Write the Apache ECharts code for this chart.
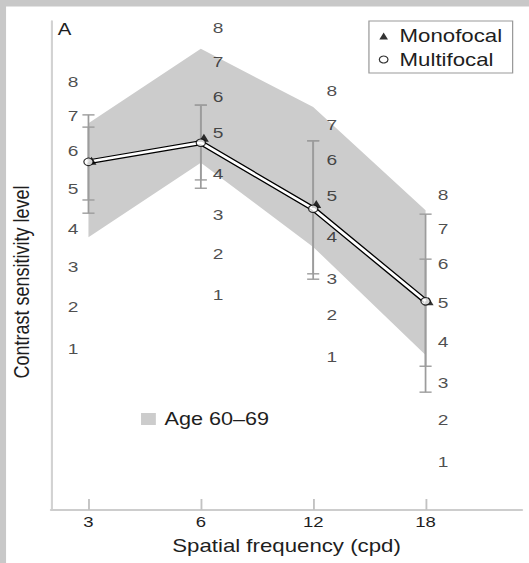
<!DOCTYPE html>
<html>
<head>
<meta charset="utf-8">
<script src="https://cdn.jsdelivr.net/npm/echarts@6.0.0/dist/echarts.min.js"></script>
<style>
  html, body { margin: 0; padding: 0; background: #fff; }
  #wrap { width: 529px; height: 563px; overflow: hidden; position: relative; }
  #chart { width: 428px; height: 563px; transform: scaleX(1.236); transform-origin: 0 0; }
</style>
</head>
<body>
<div id="wrap"><div id="chart"></div></div>
<script>
// ---- data ----
const categories = ['3', '6', '12', '18'];               // spatial frequency (cpd)
const bandUpper = [7.91, 9.43, 8.24, 6.13];             // Age 60-69 norm band, upper edge
const bandLower = [5.58, 7.10, 5.38, 3.17];             // Age 60-69 norm band, lower edge
const monofocal = [7.14, 7.61, 6.26, 4.27];
const multifocal = [7.12, 7.51, 6.16, 4.27];
const monoErrLow = [6.07, 6.58, 4.72, 2.41];
const monoErrHigh = [8.08, 8.28, 7.55, 6.05];
const multiErrLow = [6.34, 6.75, 4.83, 2.94];
const multiErrHigh = [7.83, 8.28, 7.55, 5.13];
// per-frequency contrast sensitivity level scales (tick labels and their heights)
const scaleLabels = ['1', '2', '3', '4', '5', '6', '7', '8'];
const scalePos3 = [3.29, 4.15, 4.97, 5.75, 6.58, 7.34, 8.06, 8.75];
const scalePos6 = [4.40, 5.24, 6.03, 6.87, 7.71, 8.45, 9.16, 9.86];
const scalePos12 = [3.13, 3.99, 4.74, 5.58, 6.42, 7.16, 7.87, 8.57];
const scalePos18 = [0.98, 1.84, 2.60, 3.44, 4.25, 5.03, 5.75, 6.44];

const FONT = "'Liberation Sans', Arial, Helvetica, sans-serif";
const TXT = '#1e1e1e';

const chart = echarts.init(document.getElementById('chart'), null, { renderer: 'svg' });

function xy(arr) { return arr.map((v, i) => [i, v]); }

function scaleSeries(col, positions, dx) {
  return {
    type: 'scatter',
    silent: true,
    z: 3,
    symbolSize: 1,
    itemStyle: { color: 'rgba(0,0,0,0)' },
    data: positions.map(v => [col, v]),
    label: {
      show: true,
      position: 'inside',
      offset: [dx, 0],
      formatter: p => scaleLabels[p.dataIndex],
      fontSize: 15.5,
      fontFamily: FONT,
      color: TXT
    }
  };
}

function errSeries(lo, hi) {
  return {
    type: 'custom',
    silent: true,
    z: 2,
    data: categories.map((c, i) => [i, lo[i], hi[i]]),
    encode: { x: 0, y: [1, 2] },
    renderItem: function (params, api) {
      const x = api.value(0);
      const a = api.coord([x, api.value(1)]);
      const b = api.coord([x, api.value(2)]);
      const hw = 4.9;
      const st = { stroke: '#9c9c9c', lineWidth: 1.4 };
      return {
        type: 'group',
        children: [
          { type: 'line', shape: { x1: a[0], y1: a[1], x2: b[0], y2: b[1] }, style: st },
          { type: 'line', shape: { x1: a[0] - hw, y1: a[1], x2: a[0] + hw, y2: a[1] }, style: st },
          { type: 'line', shape: { x1: b[0] - hw, y1: b[1], x2: b[0] + hw, y2: b[1] }, style: st }
        ]
      };
    }
  };
}

const option = {
  animation: false,
  backgroundColor: '#ffffff',
  textStyle: { fontFamily: FONT },
  grid: { left: 41.3, right: 5.7, top: 21, bottom: 53 },
  xAxis: {
    type: 'value',
    min: -0.333,
    max: 3.858,
    name: 'Spatial frequency (cpd)',
    nameLocation: 'middle',
    nameGap: 27,
    nameTextStyle: { fontSize: 18, color: TXT, fontFamily: FONT },
    axisLine: { show: true, onZero: false, lineStyle: { color: '#cdcdcd', width: 2 } },
    axisTick: { show: true, inside: true, length: 11, customValues: [0, 1, 2, 3],
                lineStyle: { color: '#c2c2c2', width: 1.5 } },
    axisLabel: { customValues: [0, 1, 2, 3], formatter: v => categories[Math.round(v)],
                 fontSize: 15, color: TXT, fontFamily: FONT, margin: 4.5 },
    splitLine: { show: false }
  },
  yAxis: {
    type: 'value',
    min: 0,
    max: 10,
    axisLine: { show: true, onZero: false, lineStyle: { color: '#d2d2d2', width: 1.7 } },
    axisTick: { show: false },
    axisLabel: { show: false },
    splitLine: { show: false }
  },
  legend: [
    {
      left: 298.5, top: 21, orient: 'vertical', selectedMode: false,
      borderColor: '#9a9a9a', borderWidth: 1,
      padding: [6, 8.4, 4.5, 7.9], itemGap: 5.5, itemWidth: 7, itemHeight: 7,
      textStyle: { fontSize: 18, color: TXT, fontFamily: FONT, padding: [0, 0, 0, 4.4] },
      data: [
        { name: 'Monofocal', icon: 'triangle', itemStyle: { color: '#000' } },
        { name: 'Multifocal', icon: 'circle', itemStyle: { color: '#fff', borderColor: '#000', borderWidth: 1 } }
      ]
    },
    {
      left: 114.1, top: 410, selectedMode: false, padding: 0,
      itemWidth: 12, itemHeight: 12,
      textStyle: { fontSize: 17.5, color: TXT, fontFamily: FONT, padding: [0, 0, 0, 2] },
      data: [{ name: 'Age 60–69', icon: 'rect', itemStyle: { color: '#cccccc' } }]
    }
  ],
  graphic: [
    { type: 'rect', x: 0, y: 0, z: 100, shape: { width: 428, height: 6.5 }, style: { fill: '#c8c8c8' } },
    { type: 'rect', x: 0, y: 0, z: 100, shape: { width: 4.9, height: 563 }, style: { fill: '#c8c8c8' } },
    { type: 'text', x: 46.8, y: 29, z: 100,
      style: { text: 'A', fontSize: 16.5, fontFamily: FONT, fill: TXT,
               textAlign: 'left', align: 'left', textVerticalAlign: 'middle', verticalAlign: 'middle' } },
    { type: 'text', x: 17, y: 282, rotation: Math.PI / 2, z: 100,
      style: { text: 'Contrast sensitivity level', fontSize: 18, fontFamily: FONT, fill: TXT,
               textAlign: 'center', align: 'center', textVerticalAlign: 'middle', verticalAlign: 'middle' } }
  ],
  series: [
    {
      name: 'Age 60–69',
      type: 'custom',
      silent: true,
      z: 1,
      itemStyle: { color: '#cccccc' },
      data: categories.map((c, i) => [i, bandLower[i], bandUpper[i]]),
      encode: { x: 0, y: [1, 2] },
      renderItem: function (params, api) {
        if (params.dataIndex !== 0) return null;
        const pts = [];
        for (let i = 0; i < bandUpper.length; i++) pts.push(api.coord([i, bandUpper[i]]));
        for (let i = bandLower.length - 1; i >= 0; i--) pts.push(api.coord([i, bandLower[i]]));
        return { type: 'polygon', shape: { points: pts }, style: { fill: '#cccccc' } };
      }
    },
    errSeries(monoErrLow, monoErrHigh),
    errSeries(multiErrLow, multiErrHigh),
    scaleSeries(0, scalePos3, -12.5),
    scaleSeries(1, scalePos6, 14),
    scaleSeries(2, scalePos12, 15),
    scaleSeries(3, scalePos18, 14.2),
    {
      type: 'line', silent: true, z: 4, symbol: 'none',
      data: xy(multifocal),
      lineStyle: { color: '#000', width: 5, join: 'miter' }
    },
    {
      type: 'line', silent: true, z: 4, symbol: 'none',
      data: xy(multifocal),
      lineStyle: { color: '#fff', width: 2.6, join: 'miter' }
    },
    {
      name: 'Monofocal', type: 'scatter', silent: true, z: 5,
      symbol: 'triangle', symbolSize: 8, symbolOffset: [2.5, 0],
      itemStyle: { color: '#000' },
      data: xy(monofocal)
    },
    {
      name: 'Multifocal', type: 'scatter', silent: true, z: 6,
      symbol: 'circle', symbolSize: 7.5,
      itemStyle: { color: '#fff', borderColor: '#000', borderWidth: 1 },
      data: xy(multifocal)
    }
  ]
};

chart.setOption(option);
</script>
</body>
</html>
